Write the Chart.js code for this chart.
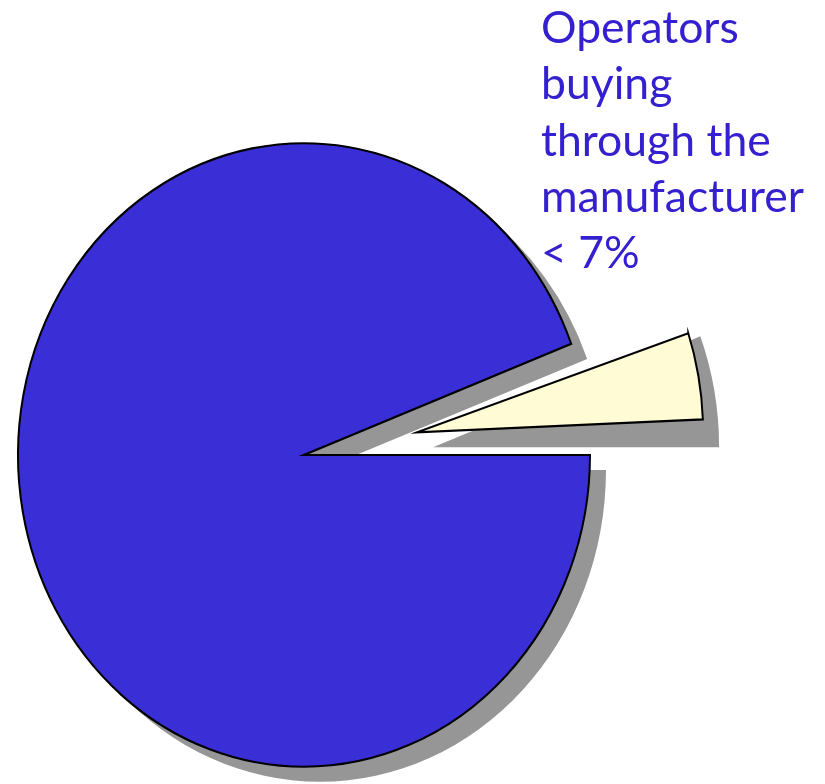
<!DOCTYPE html>
<html>
<head>
<meta charset="utf-8">
<script src="https://cdn.jsdelivr.net/npm/chart.js@4.4.0/dist/chart.umd.min.js"></script>
<style>
  html, body { margin: 0; padding: 0; background: #ffffff; }
  #graph-container { width: 825px; height: 784px; }
</style>
</head>
<body>
<div id="graph-container"><canvas id="myChart" width="825" height="784"></canvas></div>
<script>
// datos
const categorias = ['Other operators', 'Operators buying through the manufacturer < 7%'];
const valores = [94.2, 5.8];
const lineas_etiqueta = ['Operators', 'buying', 'through the', 'manufacturer', '< 7%'];

const ESCALA_Y = 1.09;       // el pastel original es un poco ovalado
const SOMBRA_X = 16;
const SOMBRA_Y = 15;

function aplastar(ctx, arc) {
  ctx.translate(arc.x, arc.y);
  ctx.scale(1, ESCALA_Y);
  ctx.translate(-arc.x, -arc.y);
}

// chart.js agranda el radio de la porcion separada, lo quitamos para que solo se desplace
const sinCrecer = {
  id: 'sinCrecer',
  afterDatasetsUpdate(chart) {
    for (const arc of chart.getDatasetMeta(0).data) {
      const off = (arc.options.offset || 0) / 4;
      const fix = 1 - Math.sin(Math.min(Math.PI, arc.circumference));
      arc.outerRadius -= off * fix;
    }
  }
};

const sombra = {
  id: 'sombra',
  beforeDatasetsDraw(chart) {
    const ctx = chart.ctx;
    const arcs = chart.getDatasetMeta(0).data;
    ctx.save();
    ctx.translate(SOMBRA_X, SOMBRA_Y);
    aplastar(ctx, arcs[0]);
    ctx.fillStyle = '#969696';
    for (const arc of arcs) {
      const off = (arc.options.offset || 0) / 4;
      const fix = 1 - Math.sin(Math.min(Math.PI, arc.circumference));
      const medio = (arc.startAngle + arc.endAngle) / 2;
      const cx = arc.x + Math.cos(medio) * off;
      const cy = arc.y + Math.sin(medio) * off;
      ctx.beginPath();
      ctx.moveTo(cx, cy);
      ctx.arc(cx, cy, arc.outerRadius + off * fix, arc.startAngle, arc.endAngle);
      ctx.closePath();
      ctx.fill();
    }
    ctx.restore();
    ctx.save();
    aplastar(ctx, arcs[0]);
  },
  afterDatasetsDraw(chart) {
    chart.ctx.restore();
  }
};

const etiqueta = {
  id: 'etiqueta',
  afterDraw(chart) {
    const ctx = chart.ctx;
    ctx.save();
    ctx.font = '100px Lato';
    const ancho = ctx.measureText('manufacturer').width;
    const tam = 100 * 263 / ancho;
    ctx.font = tam.toFixed(1) + 'px Lato';
    ctx.fillStyle = '#3420cf';
    ctx.textBaseline = 'alphabetic';
    lineas_etiqueta.forEach(function (linea, i) {
      ctx.fillText(linea, 541, 43 + i * 56.3);
    });
    ctx.restore();
  }
};

function createChart() {
  const ctx = document.getElementById('myChart');
  return new Chart(ctx, {
    type: 'pie',
    data: {
      labels: categorias,
      datasets: [{
        data: valores,
        backgroundColor: ['#3a2fd7', '#fffcd5'],
        borderColor: '#000000',
        borderWidth: 2,
        borderJoinStyle: 'miter',
        offset: [0, 460]
      }]
    },
    options: {
      responsive: false,
      animation: false,
      devicePixelRatio: 1,
      rotation: 90,
      radius: 286,
      layout: { padding: { left: 0, right: 217, top: 126, bottom: 0 } },
      plugins: {
        legend: { display: false },
        tooltip: { enabled: false }
      }
    },
    plugins: [sinCrecer, sombra, etiqueta]
  });
}

createChart();
</script>
</body>
</html>
